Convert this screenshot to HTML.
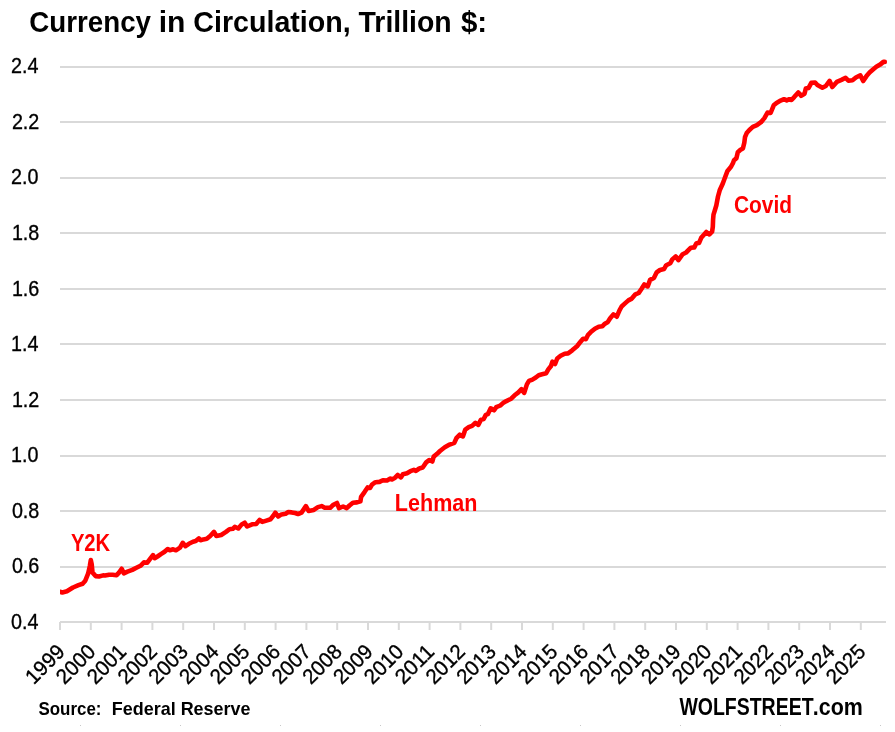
<!DOCTYPE html>
<html><head><meta charset="utf-8"><title>Currency in Circulation</title>
<style>html,body{margin:0;padding:0;background:#fff;width:895px;height:732px;overflow:hidden}svg{display:block;will-change:transform}</style>
</head><body>
<svg width="895" height="732" viewBox="0 0 895 732">
<rect width="895" height="732" fill="#fff"/>
<line x1="60" y1="622.00" x2="886" y2="622.00" stroke="#d9d9d9" stroke-width="1.8"/>
<line x1="60" y1="567.00" x2="886" y2="567.00" stroke="#d9d9d9" stroke-width="1.8"/>
<line x1="60" y1="511.00" x2="886" y2="511.00" stroke="#d9d9d9" stroke-width="1.8"/>
<line x1="60" y1="456.00" x2="886" y2="456.00" stroke="#d9d9d9" stroke-width="1.8"/>
<line x1="60" y1="400.00" x2="886" y2="400.00" stroke="#d9d9d9" stroke-width="1.8"/>
<line x1="60" y1="344.00" x2="886" y2="344.00" stroke="#d9d9d9" stroke-width="1.8"/>
<line x1="60" y1="289.00" x2="886" y2="289.00" stroke="#d9d9d9" stroke-width="1.8"/>
<line x1="60" y1="233.00" x2="886" y2="233.00" stroke="#d9d9d9" stroke-width="1.8"/>
<line x1="60" y1="178.00" x2="886" y2="178.00" stroke="#d9d9d9" stroke-width="1.8"/>
<line x1="60" y1="122.00" x2="886" y2="122.00" stroke="#d9d9d9" stroke-width="1.8"/>
<line x1="60" y1="67.00" x2="886" y2="67.00" stroke="#d9d9d9" stroke-width="1.8"/>
<line x1="60.00" y1="622.00" x2="60.00" y2="630.00" stroke="#d9d9d9" stroke-width="2"/>
<line x1="90.80" y1="622.00" x2="90.80" y2="630.00" stroke="#d9d9d9" stroke-width="2"/>
<line x1="121.60" y1="622.00" x2="121.60" y2="630.00" stroke="#d9d9d9" stroke-width="2"/>
<line x1="152.40" y1="622.00" x2="152.40" y2="630.00" stroke="#d9d9d9" stroke-width="2"/>
<line x1="183.20" y1="622.00" x2="183.20" y2="630.00" stroke="#d9d9d9" stroke-width="2"/>
<line x1="214.00" y1="622.00" x2="214.00" y2="630.00" stroke="#d9d9d9" stroke-width="2"/>
<line x1="244.80" y1="622.00" x2="244.80" y2="630.00" stroke="#d9d9d9" stroke-width="2"/>
<line x1="275.60" y1="622.00" x2="275.60" y2="630.00" stroke="#d9d9d9" stroke-width="2"/>
<line x1="306.40" y1="622.00" x2="306.40" y2="630.00" stroke="#d9d9d9" stroke-width="2"/>
<line x1="337.20" y1="622.00" x2="337.20" y2="630.00" stroke="#d9d9d9" stroke-width="2"/>
<line x1="368.00" y1="622.00" x2="368.00" y2="630.00" stroke="#d9d9d9" stroke-width="2"/>
<line x1="398.80" y1="622.00" x2="398.80" y2="630.00" stroke="#d9d9d9" stroke-width="2"/>
<line x1="429.60" y1="622.00" x2="429.60" y2="630.00" stroke="#d9d9d9" stroke-width="2"/>
<line x1="460.40" y1="622.00" x2="460.40" y2="630.00" stroke="#d9d9d9" stroke-width="2"/>
<line x1="491.20" y1="622.00" x2="491.20" y2="630.00" stroke="#d9d9d9" stroke-width="2"/>
<line x1="522.00" y1="622.00" x2="522.00" y2="630.00" stroke="#d9d9d9" stroke-width="2"/>
<line x1="552.80" y1="622.00" x2="552.80" y2="630.00" stroke="#d9d9d9" stroke-width="2"/>
<line x1="583.60" y1="622.00" x2="583.60" y2="630.00" stroke="#d9d9d9" stroke-width="2"/>
<line x1="614.40" y1="622.00" x2="614.40" y2="630.00" stroke="#d9d9d9" stroke-width="2"/>
<line x1="645.20" y1="622.00" x2="645.20" y2="630.00" stroke="#d9d9d9" stroke-width="2"/>
<line x1="676.00" y1="622.00" x2="676.00" y2="630.00" stroke="#d9d9d9" stroke-width="2"/>
<line x1="706.80" y1="622.00" x2="706.80" y2="630.00" stroke="#d9d9d9" stroke-width="2"/>
<line x1="737.60" y1="622.00" x2="737.60" y2="630.00" stroke="#d9d9d9" stroke-width="2"/>
<line x1="768.40" y1="622.00" x2="768.40" y2="630.00" stroke="#d9d9d9" stroke-width="2"/>
<line x1="799.20" y1="622.00" x2="799.20" y2="630.00" stroke="#d9d9d9" stroke-width="2"/>
<line x1="830.00" y1="622.00" x2="830.00" y2="630.00" stroke="#d9d9d9" stroke-width="2"/>
<line x1="860.80" y1="622.00" x2="860.80" y2="630.00" stroke="#d9d9d9" stroke-width="2"/>
<text x="10.99" y="629.00" font-family='"Liberation Sans", sans-serif' font-size="21.7" textLength="27.45" lengthAdjust="spacingAndGlyphs" fill="#000" stroke="#000" stroke-width="0.35">0.4</text>
<text x="11.90" y="573.42" font-family='"Liberation Sans", sans-serif' font-size="21.7" textLength="27.45" lengthAdjust="spacingAndGlyphs" fill="#000" stroke="#000" stroke-width="0.35">0.6</text>
<text x="11.90" y="517.84" font-family='"Liberation Sans", sans-serif' font-size="21.7" textLength="27.45" lengthAdjust="spacingAndGlyphs" fill="#000" stroke="#000" stroke-width="0.35">0.8</text>
<text x="10.99" y="462.26" font-family='"Liberation Sans", sans-serif' font-size="21.7" textLength="27.45" lengthAdjust="spacingAndGlyphs" fill="#000" stroke="#000" stroke-width="0.35">1.0</text>
<text x="11.90" y="406.68" font-family='"Liberation Sans", sans-serif' font-size="21.7" textLength="27.45" lengthAdjust="spacingAndGlyphs" fill="#000" stroke="#000" stroke-width="0.35">1.2</text>
<text x="10.99" y="351.10" font-family='"Liberation Sans", sans-serif' font-size="21.7" textLength="27.45" lengthAdjust="spacingAndGlyphs" fill="#000" stroke="#000" stroke-width="0.35">1.4</text>
<text x="11.90" y="295.52" font-family='"Liberation Sans", sans-serif' font-size="21.7" textLength="27.45" lengthAdjust="spacingAndGlyphs" fill="#000" stroke="#000" stroke-width="0.35">1.6</text>
<text x="11.90" y="239.94" font-family='"Liberation Sans", sans-serif' font-size="21.7" textLength="27.45" lengthAdjust="spacingAndGlyphs" fill="#000" stroke="#000" stroke-width="0.35">1.8</text>
<text x="10.99" y="184.36" font-family='"Liberation Sans", sans-serif' font-size="21.7" textLength="27.45" lengthAdjust="spacingAndGlyphs" fill="#000" stroke="#000" stroke-width="0.35">2.0</text>
<text x="11.90" y="128.78" font-family='"Liberation Sans", sans-serif' font-size="21.7" textLength="27.45" lengthAdjust="spacingAndGlyphs" fill="#000" stroke="#000" stroke-width="0.35">2.2</text>
<text x="10.99" y="73.20" font-family='"Liberation Sans", sans-serif' font-size="21.7" textLength="27.45" lengthAdjust="spacingAndGlyphs" fill="#000" stroke="#000" stroke-width="0.35">2.4</text>
<text x="66.00" y="653.00" text-anchor="end" transform="rotate(-45 66.00 653.00)" font-family='"Liberation Sans", sans-serif' font-size="21" textLength="45.5" lengthAdjust="spacingAndGlyphs" fill="#000" stroke="#000" stroke-width="0.35">1999</text>
<text x="96.80" y="653.00" text-anchor="end" transform="rotate(-45 96.80 653.00)" font-family='"Liberation Sans", sans-serif' font-size="21" textLength="45.5" lengthAdjust="spacingAndGlyphs" fill="#000" stroke="#000" stroke-width="0.35">2000</text>
<text x="127.60" y="653.00" text-anchor="end" transform="rotate(-45 127.60 653.00)" font-family='"Liberation Sans", sans-serif' font-size="21" textLength="45.5" lengthAdjust="spacingAndGlyphs" fill="#000" stroke="#000" stroke-width="0.35">2001</text>
<text x="158.40" y="653.00" text-anchor="end" transform="rotate(-45 158.40 653.00)" font-family='"Liberation Sans", sans-serif' font-size="21" textLength="45.5" lengthAdjust="spacingAndGlyphs" fill="#000" stroke="#000" stroke-width="0.35">2002</text>
<text x="189.20" y="653.00" text-anchor="end" transform="rotate(-45 189.20 653.00)" font-family='"Liberation Sans", sans-serif' font-size="21" textLength="45.5" lengthAdjust="spacingAndGlyphs" fill="#000" stroke="#000" stroke-width="0.35">2003</text>
<text x="220.00" y="653.00" text-anchor="end" transform="rotate(-45 220.00 653.00)" font-family='"Liberation Sans", sans-serif' font-size="21" textLength="45.5" lengthAdjust="spacingAndGlyphs" fill="#000" stroke="#000" stroke-width="0.35">2004</text>
<text x="250.80" y="653.00" text-anchor="end" transform="rotate(-45 250.80 653.00)" font-family='"Liberation Sans", sans-serif' font-size="21" textLength="45.5" lengthAdjust="spacingAndGlyphs" fill="#000" stroke="#000" stroke-width="0.35">2005</text>
<text x="281.60" y="653.00" text-anchor="end" transform="rotate(-45 281.60 653.00)" font-family='"Liberation Sans", sans-serif' font-size="21" textLength="45.5" lengthAdjust="spacingAndGlyphs" fill="#000" stroke="#000" stroke-width="0.35">2006</text>
<text x="312.40" y="653.00" text-anchor="end" transform="rotate(-45 312.40 653.00)" font-family='"Liberation Sans", sans-serif' font-size="21" textLength="45.5" lengthAdjust="spacingAndGlyphs" fill="#000" stroke="#000" stroke-width="0.35">2007</text>
<text x="343.20" y="653.00" text-anchor="end" transform="rotate(-45 343.20 653.00)" font-family='"Liberation Sans", sans-serif' font-size="21" textLength="45.5" lengthAdjust="spacingAndGlyphs" fill="#000" stroke="#000" stroke-width="0.35">2008</text>
<text x="374.00" y="653.00" text-anchor="end" transform="rotate(-45 374.00 653.00)" font-family='"Liberation Sans", sans-serif' font-size="21" textLength="45.5" lengthAdjust="spacingAndGlyphs" fill="#000" stroke="#000" stroke-width="0.35">2009</text>
<text x="404.80" y="653.00" text-anchor="end" transform="rotate(-45 404.80 653.00)" font-family='"Liberation Sans", sans-serif' font-size="21" textLength="45.5" lengthAdjust="spacingAndGlyphs" fill="#000" stroke="#000" stroke-width="0.35">2010</text>
<text x="435.60" y="653.00" text-anchor="end" transform="rotate(-45 435.60 653.00)" font-family='"Liberation Sans", sans-serif' font-size="21" textLength="45.5" lengthAdjust="spacingAndGlyphs" fill="#000" stroke="#000" stroke-width="0.35">2011</text>
<text x="466.40" y="653.00" text-anchor="end" transform="rotate(-45 466.40 653.00)" font-family='"Liberation Sans", sans-serif' font-size="21" textLength="45.5" lengthAdjust="spacingAndGlyphs" fill="#000" stroke="#000" stroke-width="0.35">2012</text>
<text x="497.20" y="653.00" text-anchor="end" transform="rotate(-45 497.20 653.00)" font-family='"Liberation Sans", sans-serif' font-size="21" textLength="45.5" lengthAdjust="spacingAndGlyphs" fill="#000" stroke="#000" stroke-width="0.35">2013</text>
<text x="528.00" y="653.00" text-anchor="end" transform="rotate(-45 528.00 653.00)" font-family='"Liberation Sans", sans-serif' font-size="21" textLength="45.5" lengthAdjust="spacingAndGlyphs" fill="#000" stroke="#000" stroke-width="0.35">2014</text>
<text x="558.80" y="653.00" text-anchor="end" transform="rotate(-45 558.80 653.00)" font-family='"Liberation Sans", sans-serif' font-size="21" textLength="45.5" lengthAdjust="spacingAndGlyphs" fill="#000" stroke="#000" stroke-width="0.35">2015</text>
<text x="589.60" y="653.00" text-anchor="end" transform="rotate(-45 589.60 653.00)" font-family='"Liberation Sans", sans-serif' font-size="21" textLength="45.5" lengthAdjust="spacingAndGlyphs" fill="#000" stroke="#000" stroke-width="0.35">2016</text>
<text x="620.40" y="653.00" text-anchor="end" transform="rotate(-45 620.40 653.00)" font-family='"Liberation Sans", sans-serif' font-size="21" textLength="45.5" lengthAdjust="spacingAndGlyphs" fill="#000" stroke="#000" stroke-width="0.35">2017</text>
<text x="651.20" y="653.00" text-anchor="end" transform="rotate(-45 651.20 653.00)" font-family='"Liberation Sans", sans-serif' font-size="21" textLength="45.5" lengthAdjust="spacingAndGlyphs" fill="#000" stroke="#000" stroke-width="0.35">2018</text>
<text x="682.00" y="653.00" text-anchor="end" transform="rotate(-45 682.00 653.00)" font-family='"Liberation Sans", sans-serif' font-size="21" textLength="45.5" lengthAdjust="spacingAndGlyphs" fill="#000" stroke="#000" stroke-width="0.35">2019</text>
<text x="712.80" y="653.00" text-anchor="end" transform="rotate(-45 712.80 653.00)" font-family='"Liberation Sans", sans-serif' font-size="21" textLength="45.5" lengthAdjust="spacingAndGlyphs" fill="#000" stroke="#000" stroke-width="0.35">2020</text>
<text x="743.60" y="653.00" text-anchor="end" transform="rotate(-45 743.60 653.00)" font-family='"Liberation Sans", sans-serif' font-size="21" textLength="45.5" lengthAdjust="spacingAndGlyphs" fill="#000" stroke="#000" stroke-width="0.35">2021</text>
<text x="774.40" y="653.00" text-anchor="end" transform="rotate(-45 774.40 653.00)" font-family='"Liberation Sans", sans-serif' font-size="21" textLength="45.5" lengthAdjust="spacingAndGlyphs" fill="#000" stroke="#000" stroke-width="0.35">2022</text>
<text x="805.20" y="653.00" text-anchor="end" transform="rotate(-45 805.20 653.00)" font-family='"Liberation Sans", sans-serif' font-size="21" textLength="45.5" lengthAdjust="spacingAndGlyphs" fill="#000" stroke="#000" stroke-width="0.35">2023</text>
<text x="836.00" y="653.00" text-anchor="end" transform="rotate(-45 836.00 653.00)" font-family='"Liberation Sans", sans-serif' font-size="21" textLength="45.5" lengthAdjust="spacingAndGlyphs" fill="#000" stroke="#000" stroke-width="0.35">2024</text>
<text x="866.80" y="653.00" text-anchor="end" transform="rotate(-45 866.80 653.00)" font-family='"Liberation Sans", sans-serif' font-size="21" textLength="45.5" lengthAdjust="spacingAndGlyphs" fill="#000" stroke="#000" stroke-width="0.35">2025</text>
<defs><clipPath id="pa"><rect x="60" y="0" width="835" height="732"/></clipPath></defs>
<path d="M60.0,591.8 L62.4,592.4 L66.9,591.3 L73.0,587.5 L78.5,585.1 L82.6,583.7 L85.3,580.7 L88.1,573.7 L89.8,566.2 L90.8,560.1 L91.7,564.2 L92.5,572.4 L95.6,576.1 L99.0,576.5 L103.1,575.4 L105.0,575.5 L109.1,574.7 L112.5,574.7 L116.6,575.3 L119.0,572.6 L121.7,568.8 L123.8,573.3 L127.5,571.6 L132.3,569.9 L136.4,567.8 L140.5,565.8 L143.9,562.4 L147.3,562.7 L150.1,558.9 L153.0,555.1 L154.7,558.2 L157.5,556.5 L160.9,554.1 L164.6,551.7 L167.7,549.0 L169.8,550.3 L173.2,549.3 L175.9,550.3 L180.0,547.6 L182.7,542.8 L185.5,546.2 L188.9,543.8 L193.0,541.8 L195.7,541.1 L198.8,538.4 L200.5,540.3 L203.4,539.4 L206.8,538.8 L210.2,536.0 L214.0,531.9 L216.4,536.0 L221.2,535.0 L226.0,531.9 L229.4,529.2 L232.8,528.8 L234.8,526.8 L238.3,528.5 L241.7,524.4 L244.7,522.7 L247.1,526.5 L252.1,524.3 L256.2,524.0 L259.6,519.9 L262.3,521.9 L266.4,520.6 L270.5,519.2 L273.3,515.8 L275.3,512.7 L278.1,516.5 L281.5,514.4 L285.6,513.7 L288.3,512.0 L291.7,512.4 L295.1,513.0 L298.0,514.0 L301.5,512.6 L305.9,506.1 L308.6,510.9 L313.8,509.9 L317.9,507.1 L321.6,506.1 L324.7,507.8 L330.2,507.8 L332.9,505.1 L337.0,503.0 L339.0,508.2 L343.1,506.5 L346.7,508.2 L349.5,505.5 L352.9,502.7 L357.0,502.4 L360.4,501.4 L361.1,496.9 L364.5,492.1 L367.6,487.4 L370.0,488.0 L372.0,484.6 L375.4,482.2 L379.5,481.9 L382.9,480.2 L387.0,480.5 L390.4,478.5 L392.0,479.4 L395.1,477.7 L397.8,475.0 L400.9,477.4 L402.9,474.3 L407.0,473.3 L410.4,471.2 L413.9,469.9 L415.9,470.9 L419.3,468.5 L422.7,467.5 L426.2,462.4 L429.2,460.0 L432.3,461.5 L433.7,456.6 L437.1,453.8 L440.0,451.0 L444.8,447.3 L449.6,444.6 L454.3,442.9 L456.4,438.2 L459.8,434.7 L462.9,436.4 L465.3,429.6 L468.7,427.2 L472.1,425.9 L475.5,422.8 L478.3,424.8 L481.0,419.7 L483.7,419.0 L485.8,414.9 L487.8,414.2 L490.7,408.3 L494.1,410.3 L496.2,407.2 L500.3,405.5 L503.0,403.1 L506.4,401.1 L511.2,398.7 L514.6,395.3 L518.1,392.6 L521.5,389.1 L524.2,392.9 L526.9,384.4 L529.0,380.9 L532.4,379.6 L535.8,377.5 L538.7,375.2 L542.1,374.2 L546.2,373.2 L548.3,369.4 L551.0,366.0 L552.4,361.6 L555.1,364.0 L557.2,358.5 L560.6,355.8 L564.7,353.7 L568.1,353.4 L572.2,350.3 L577.0,346.2 L579.7,342.8 L583.1,338.7 L586.0,339.1 L588.1,334.8 L590.8,332.1 L594.9,328.7 L598.7,326.7 L602.4,326.3 L604.5,323.9 L607.9,321.9 L610.0,318.5 L613.4,314.4 L616.8,316.7 L619.5,310.3 L621.6,306.5 L625.0,303.4 L628.4,300.4 L631.8,298.6 L635.4,294.3 L638.8,292.9 L641.6,288.8 L644.3,284.4 L647.7,286.4 L650.1,279.9 L653.9,277.9 L656.6,272.4 L660.0,270.0 L664.1,269.0 L666.2,265.2 L670.3,263.2 L672.3,259.4 L675.7,256.4 L678.4,260.1 L682.7,254.2 L686.1,252.5 L690.9,247.7 L694.3,247.4 L696.4,243.3 L699.1,242.9 L701.2,237.8 L703.9,234.7 L706.3,232.0 L709.4,234.4 L712.1,231.7 L712.8,226.9 L713.1,219.4 L713.5,214.6 L714.8,210.5 L716.3,205.5 L718.0,196.5 L719.7,190.3 L722.8,183.5 L724.8,178.0 L727.5,170.9 L731.0,166.8 L733.0,163.0 L734.0,160.3 L736.4,158.2 L737.8,152.2 L740.5,149.8 L742.9,148.5 L744.3,142.7 L745.0,137.2 L746.7,133.1 L749.4,130.0 L752.8,126.9 L756.9,125.2 L761.0,122.2 L764.4,118.1 L767.5,112.6 L770.6,113.0 L773.7,105.3 L776.5,102.9 L780.6,100.6 L784.0,99.2 L786.7,100.4 L789.4,99.2 L791.5,100.0 L794.2,97.1 L798.3,92.4 L801.1,95.8 L804.5,93.7 L805.8,88.6 L808.6,87.9 L811.3,82.8 L815.1,82.5 L817.4,85.0 L822.4,87.7 L825.8,86.0 L829.6,80.9 L832.3,87.0 L836.8,81.9 L841.5,79.9 L845.6,77.8 L848.4,80.6 L852.5,80.2 L855.9,77.5 L860.3,75.3 L863.2,81.0 L866.5,76.1 L869.8,72.3 L873.0,69.5 L876.3,66.8 L880.1,64.6 L883.4,61.9 L884.8,61.9" fill="none" stroke="#ff0000" stroke-width="4.6" stroke-linejoin="round" stroke-linecap="round" clip-path="url(#pa)"/>
<text x="29.24" y="32" font-family='"Liberation Sans", sans-serif' font-weight="bold" font-size="29" textLength="121.77" lengthAdjust="spacingAndGlyphs" fill="#000" xml:space="preserve">Currency</text>
<text x="158.73" y="32" font-family='"Liberation Sans", sans-serif' font-weight="bold" font-size="29" textLength="26.72" lengthAdjust="spacingAndGlyphs" fill="#000" xml:space="preserve">in</text>
<text x="193.31" y="32" font-family='"Liberation Sans", sans-serif' font-weight="bold" font-size="29" textLength="157.38" lengthAdjust="spacingAndGlyphs" fill="#000" xml:space="preserve">Circulation,</text>
<text x="358.60" y="32" font-family='"Liberation Sans", sans-serif' font-weight="bold" font-size="29" textLength="93.04" lengthAdjust="spacingAndGlyphs" fill="#000" xml:space="preserve">Trillion</text>
<text x="460.90" y="32" font-family='"Liberation Sans", sans-serif' font-weight="bold" font-size="29" textLength="26.23" lengthAdjust="spacingAndGlyphs" fill="#000" xml:space="preserve">$:</text>
<text x="70.90" y="551" font-family='"Liberation Sans", sans-serif' font-weight="bold" font-size="23.2" textLength="39.30" lengthAdjust="spacingAndGlyphs" fill="#ff0000" xml:space="preserve">Y2K</text>
<text x="394.86" y="511" font-family='"Liberation Sans", sans-serif' font-weight="bold" font-size="23" textLength="82.55" lengthAdjust="spacingAndGlyphs" fill="#ff0000" xml:space="preserve">Lehman</text>
<text x="733.99" y="213" font-family='"Liberation Sans", sans-serif' font-weight="bold" font-size="23" textLength="58.02" lengthAdjust="spacingAndGlyphs" fill="#ff0000" xml:space="preserve">Covid</text>
<text x="38.50" y="715" font-family='"Liberation Sans", sans-serif' font-weight="bold" font-size="19" textLength="62.96" lengthAdjust="spacingAndGlyphs" fill="#000" xml:space="preserve">Source:</text>
<text x="111.86" y="715" font-family='"Liberation Sans", sans-serif' font-weight="bold" font-size="19" textLength="138.63" lengthAdjust="spacingAndGlyphs" fill="#000" xml:space="preserve">Federal Reserve</text>
<text x="679.40" y="715" font-family='"Liberation Sans", sans-serif' font-weight="bold" font-size="23.3" textLength="134.17" lengthAdjust="spacingAndGlyphs" fill="#000" xml:space="preserve">WOLFSTREET</text>
<text x="812.78" y="715" font-family='"Liberation Sans", sans-serif' font-weight="bold" font-size="23.3" textLength="49.98" lengthAdjust="spacingAndGlyphs" fill="#000" xml:space="preserve">.com</text>
<rect x="80" y="725" width="1" height="1" fill="#c8c8c8"/>
<rect x="180" y="725" width="1" height="1" fill="#c8c8c8"/>
<rect x="280" y="725" width="1" height="1" fill="#c8c8c8"/>
<rect x="380" y="725" width="1" height="1" fill="#c8c8c8"/>
<rect x="480" y="725" width="1" height="1" fill="#c8c8c8"/>
<rect x="580" y="725" width="1" height="1" fill="#c8c8c8"/>
<rect x="680" y="725" width="1" height="1" fill="#c8c8c8"/>
<rect x="780" y="725" width="1" height="1" fill="#c8c8c8"/>
<rect x="880" y="725" width="1" height="1" fill="#c8c8c8"/>
</svg>
</body></html>
